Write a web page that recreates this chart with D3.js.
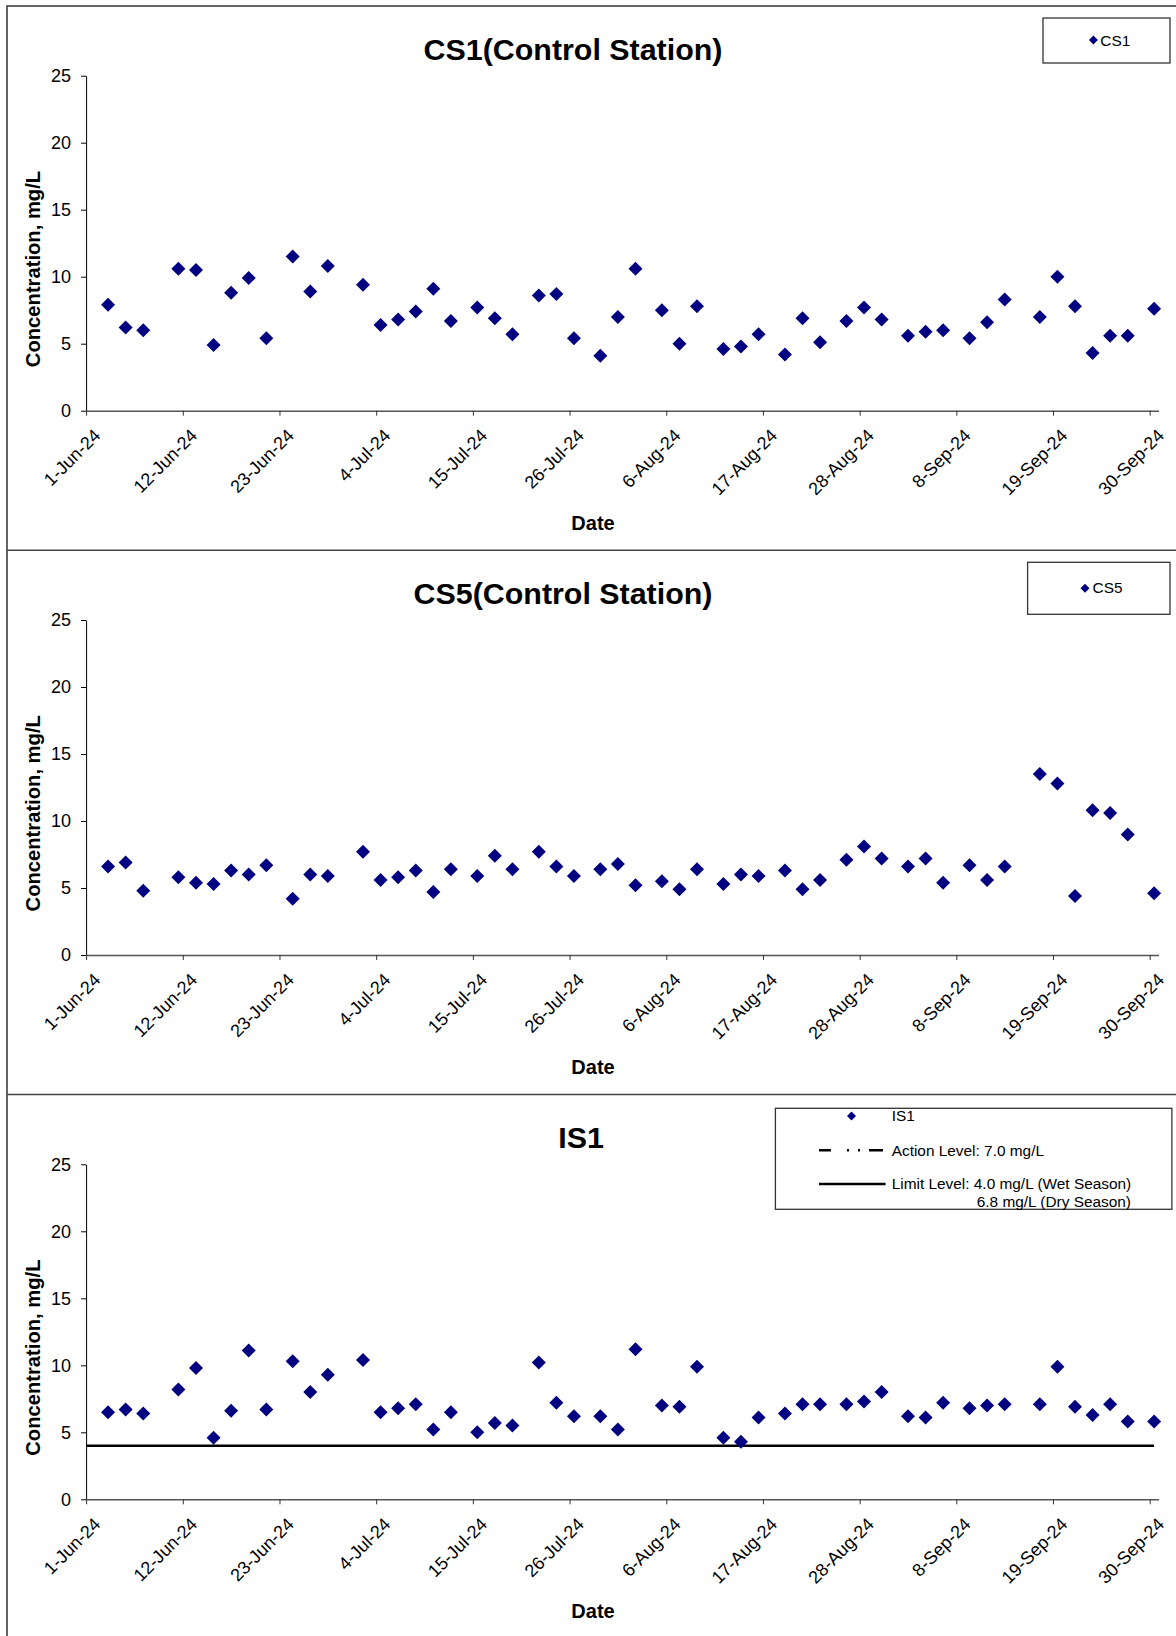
<!DOCTYPE html>
<html><head><meta charset="utf-8">
<script src="https://cdn.jsdelivr.net/npm/d3@7"></script>
<style>
body{margin:0;background:#fff}
svg{display:block}
text{font-family:"Liberation Sans",Arial,Helvetica,sans-serif;fill:#000}
</style>
</head><body>
<svg id="chart" width="1176" height="1636"></svg>
<script>
// ---- data ----
const sampleDates = [
 "2024-06-03T12:00","2024-06-05T12:00","2024-06-07T12:00","2024-06-11T12:00","2024-06-13T12:00","2024-06-15T12:00",
 "2024-06-17T12:00","2024-06-19T12:00","2024-06-21T12:00","2024-06-24T12:00","2024-06-26T12:00","2024-06-28T12:00",
 "2024-07-02T12:00","2024-07-04T12:00","2024-07-06T12:00","2024-07-08T12:00","2024-07-10T12:00","2024-07-12T12:00",
 "2024-07-15T12:00","2024-07-17T12:00","2024-07-19T12:00","2024-07-22T12:00","2024-07-24T12:00","2024-07-26T12:00",
 "2024-07-29T12:00","2024-07-31T12:00",
 "2024-08-02T12:00","2024-08-05T12:00","2024-08-07T12:00","2024-08-09T12:00","2024-08-12T12:00","2024-08-14T12:00",
 "2024-08-16T12:00","2024-08-19T12:00","2024-08-21T12:00","2024-08-23T12:00","2024-08-26T12:00","2024-08-28T12:00",
 "2024-08-30T12:00",
 "2024-09-02T12:00","2024-09-04T12:00","2024-09-06T12:00","2024-09-09T12:00","2024-09-11T12:00","2024-09-13T12:00",
 "2024-09-17T12:00","2024-09-19T12:00","2024-09-21T12:00","2024-09-23T12:00","2024-09-25T12:00","2024-09-27T12:00",
 "2024-09-30T12:00"
];
const cs1Values = [
 7.9,6.2,6.0,10.6,10.5,4.9,8.8,9.9,5.4,11.5,8.9,10.8,
 9.4,6.4,6.8,7.4,9.1,6.7,7.7,6.9,5.7,8.6,8.7,5.4,4.1,7.0,
 10.6,7.5,5.0,7.8,4.6,4.8,5.7,4.2,6.9,5.1,6.7,7.7,6.8,
 5.6,5.9,6.0,5.4,6.6,8.3,7.0,10.0,7.8,4.3,5.6,5.6,7.6
];
const cs5Values = [
 6.6,6.9,4.8,5.8,5.4,5.3,6.3,6.0,6.7,4.2,6.0,5.9,
 7.7,5.6,5.8,6.3,4.7,6.4,5.9,7.4,6.4,7.7,6.6,5.9,6.4,6.8,
 5.2,5.5,4.9,6.4,5.3,6.0,5.9,6.3,4.9,5.6,7.1,8.1,7.2,
 6.6,7.2,5.4,6.7,5.6,6.6,13.5,12.8,4.4,10.8,10.6,9.0,4.6
];
const is1Values = [
 6.5,6.7,6.4,8.2,9.8,4.6,6.6,11.1,6.7,10.3,8.0,9.3,
 10.4,6.5,6.8,7.1,5.2,6.5,5.0,5.7,5.5,10.2,7.2,6.2,6.2,5.2,
 11.2,7.0,6.9,9.9,4.6,4.3,6.1,6.4,7.1,7.1,7.1,7.3,8.0,
 6.2,6.1,7.2,6.8,7.0,7.1,7.1,9.9,6.9,6.3,7.1,5.8,5.8
];
const xDomain = ["2024-06-01","2024-10-01"];
const xTickDates = ["2024-06-01","2024-06-12","2024-06-23","2024-07-04","2024-07-15","2024-07-26",
 "2024-08-06","2024-08-17","2024-08-28","2024-09-08","2024-09-19","2024-09-30"];
const yTicks = [0,5,10,15,20,25];
const yDomain = [0,25];
const limitLevel = 4.0;
const titles = ["CS1(Control Station)","CS5(Control Station)","IS1"];
const seriesNames = ["CS1","CS5","IS1"];
const legendIS1 = ["IS1","Action Level: 7.0 mg/L","Limit Level: 4.0 mg/L (Wet Season)","6.8 mg/L (Dry Season)"];

// ---- layout ----
const parseT = d3.timeParse("%Y-%m-%dT%H:%M");
const parseD = d3.timeParse("%Y-%m-%d");
const fmt = d3.timeFormat("%-d-%b-%y");
const svg = d3.select("#chart");
const NAVY = "#000080";
const panelTop0 = 6, panelH = 544.3;
const plotL = 86.1, plotR = 1158.5, plotTopRel = 69.7, plotBotRel = 404.7;

const x = d3.scaleTime().domain(xDomain.map(parseD)).range([plotL, plotR]);
const dates = sampleDates.map(parseT);

const panels = [
  {values: cs1Values, titleX: 573, legend: {box:[1043,12,127,45], dia:[1093.4,34], txt:[1100.3,40]}},
  {values: cs5Values, titleX: 563, legend: {box:[1027.6,12,142.4,52], dia:[1085,38], txt:[1092.6,43]}},
  {values: is1Values, titleX: 581, legend: null, limit: true}
];

const diamond = (s) => d3.symbol().type(d3.symbolSquare).size(s)();

// outer frame and separators
svg.append("rect").attr("x",7).attr("y",panelTop0).attr("width",1200).attr("height",1700)
  .attr("fill","none").attr("stroke","#333").attr("stroke-width",1.5);

panels.forEach((p, i) => {
  const top = panelTop0 + i*panelH;
  if (i > 0) svg.append("line").attr("x1",7).attr("x2",1176).attr("y1",top).attr("y2",top)
      .attr("stroke","#444").attr("stroke-width",1.5);
  const g = svg.append("g");
  const y = d3.scaleLinear().domain(yDomain).range([top+plotBotRel, top+plotTopRel]);

  // title
  g.append("text").attr("x",p.titleX).attr("y",top+53.5).attr("text-anchor","middle")
    .attr("font-size",30.4).attr("font-weight","bold").text(titles[i]);

  // y axis
  const ya = g.append("g").attr("transform",`translate(${plotL},0)`)
    .call(d3.axisLeft(y).tickValues(yTicks).tickSize(5).tickSizeOuter(0).tickPadding(10));
  ya.select(".domain").attr("stroke","#000").attr("stroke-width",1);
  ya.selectAll(".tick line").attr("stroke","#000");
  ya.selectAll("text").attr("font-size",18).attr("font-family","Liberation Sans, Arial, sans-serif").attr("fill","#000");

  // x axis
  const xa = g.append("g").attr("transform",`translate(0,${top+plotBotRel})`)
    .call(d3.axisBottom(x).tickValues(xTickDates.map(parseD)).tickFormat(fmt).tickSize(5).tickSizeOuter(0));
  xa.select(".domain").attr("stroke","#555").attr("stroke-width",1.5);
  xa.selectAll(".tick line").attr("stroke","#333");
  xa.selectAll("text").attr("font-size",18).attr("font-family","Liberation Sans, Arial, sans-serif").attr("fill","#000")
    .attr("text-anchor","end").attr("y",null).attr("dy",null)
    .attr("transform","translate(15,26) rotate(-45)");

  // axis titles
  g.append("text").attr("x",593).attr("y",top+523.5).attr("text-anchor","middle")
    .attr("font-size",20).attr("font-weight","bold").text("Date");
  g.append("text").attr("transform",`translate(39.5,${top+263}) rotate(-90)`).attr("text-anchor","middle")
    .attr("font-size",20.2).attr("font-weight","bold").text("Concentration, mg/L");

  // limit line
  if (p.limit) {
    g.append("line").attr("x1",x(x.domain()[0])).attr("x2",x(dates[dates.length-1]))
      .attr("y1",y(limitLevel)).attr("y2",y(limitLevel)).attr("stroke","#000").attr("stroke-width",2.5);
  }

  // points
  g.append("g").selectAll("path").data(p.values).join("path")
    .attr("d", diamond(98))
    .attr("transform",(d,j)=>`translate(${x(dates[j])},${y(d)}) rotate(45)`)
    .attr("fill",NAVY);

  // legends
  if (p.legend) {
    const L = p.legend;
    g.append("rect").attr("x",L.box[0]).attr("y",top+L.box[1]).attr("width",L.box[2]).attr("height",L.box[3])
      .attr("fill","#fff").attr("stroke","#333").attr("stroke-width",1.3);
    g.append("path").attr("d",diamond(40)).attr("transform",`translate(${L.dia[0]},${top+L.dia[1]}) rotate(45)`).attr("fill",NAVY);
    g.append("text").attr("x",L.txt[0]).attr("y",top+L.txt[1]).attr("font-size",15.4).text(seriesNames[i]);
  } else {
    const bx = 775.4, by = top+13.7;
    g.append("rect").attr("x",bx).attr("y",by).attr("width",396.5).attr("height",101)
      .attr("fill","#fff").attr("stroke","#333").attr("stroke-width",1.3);
    g.append("path").attr("d",diamond(40)).attr("transform",`translate(851.5,${top+21.4}) rotate(45)`).attr("fill",NAVY);
    g.append("text").attr("x",891.7).attr("y",top+26.3).attr("font-size",15.4).text(legendIS1[0]);
    g.append("line").attr("x1",819).attr("x2",885.5).attr("y1",top+55.7).attr("y2",top+55.7)
      .attr("stroke","#000").attr("stroke-width",2.5).attr("stroke-dasharray","12,16,2,9,2,9,14");
    g.append("text").attr("x",891.7).attr("y",top+61.2).attr("font-size",15.4).text(legendIS1[1]);
    g.append("line").attr("x1",819).attr("x2",885.5).attr("y1",top+89.4).attr("y2",top+89.4)
      .attr("stroke","#000").attr("stroke-width",2.5);
    g.append("text").attr("x",891.7).attr("y",top+94.8).attr("font-size",15.4).text(legendIS1[2]);
    g.append("text").attr("x",1131).attr("y",top+112.5).attr("font-size",15.4).attr("text-anchor","end").text(legendIS1[3]);
  }
});
</script>
</body></html>
